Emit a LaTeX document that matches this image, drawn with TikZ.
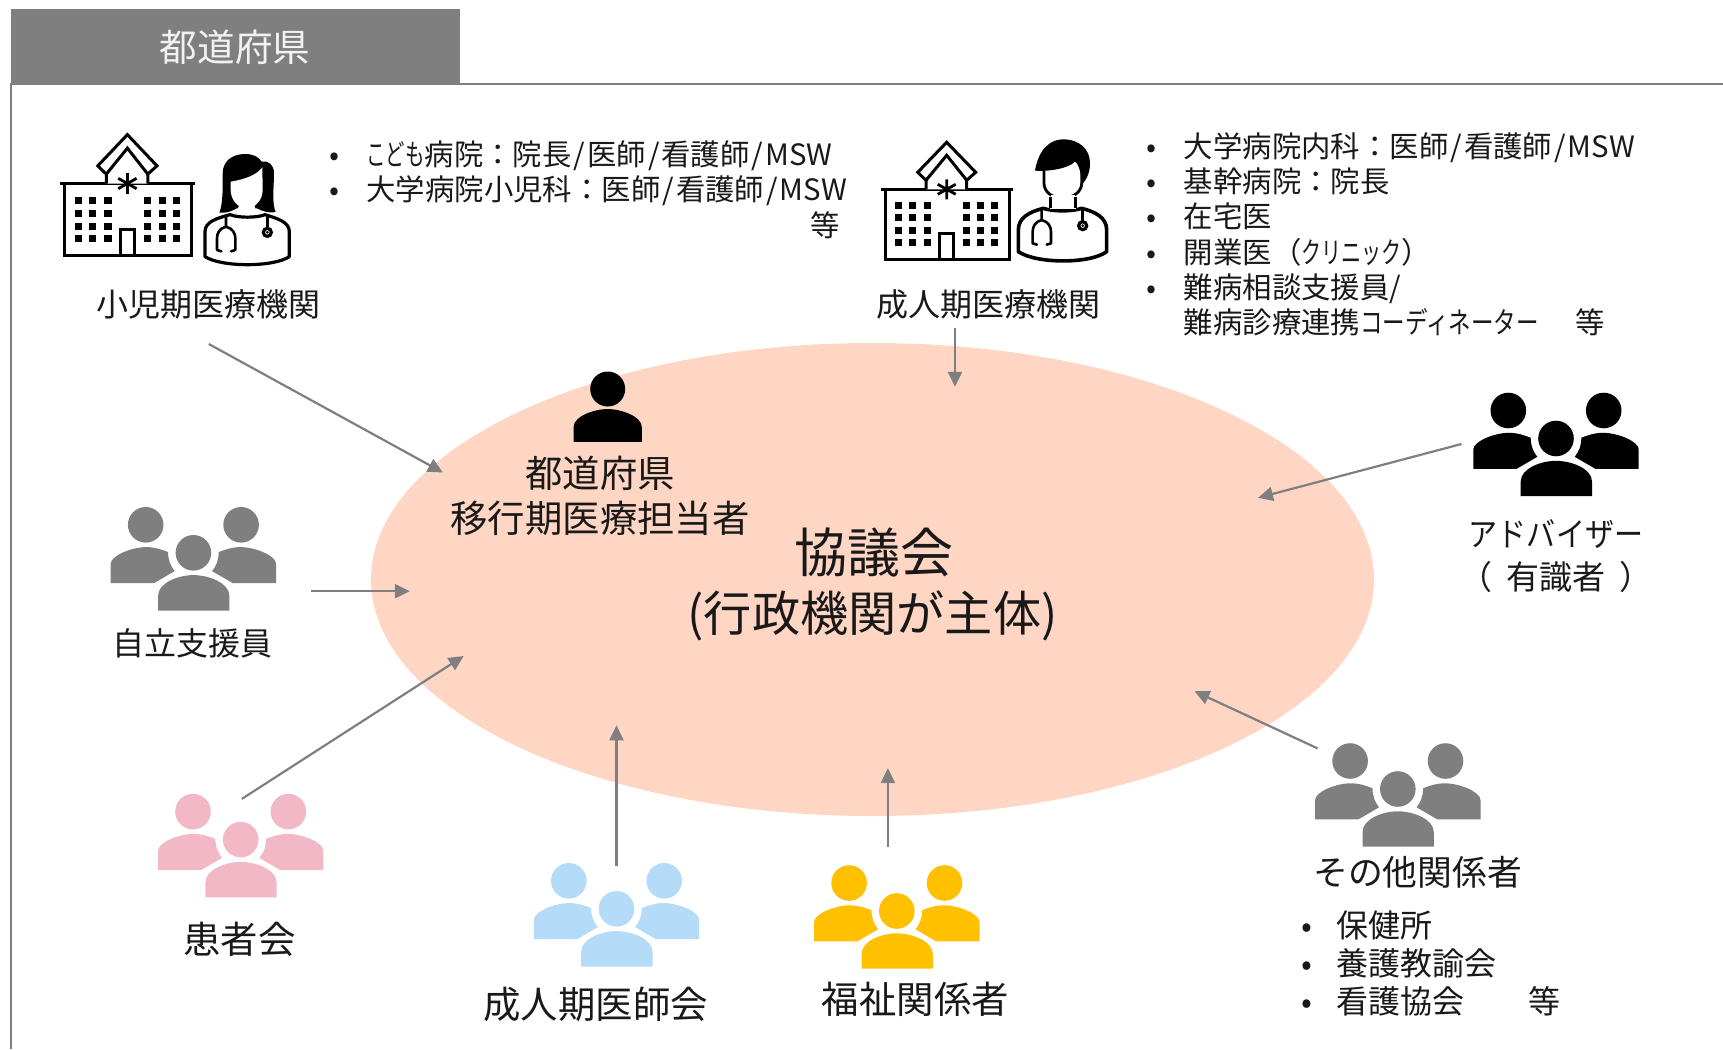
\documentclass[tikz,border=0pt]{standalone}
\usepackage{graphicx}
\usepackage{fontspec}
\setmainfont{Noto Sans CJK JP}
\usetikzlibrary{arrows.meta,shapes.geometric}
\definecolor{tabgray}{HTML}{7F7F7F}
\definecolor{ovalc}{HTML}{FFD6C3}
\definecolor{pinkc}{HTML}{F2B8C6}
\definecolor{bluec}{HTML}{B4DBF7}
\definecolor{yellowc}{HTML}{FFC000}
\newcommand{\fs}[1]{\fontsize{#1pt}{#1pt}\selectfont}
\newcommand{\blt}{\makebox[18.7pt][l]{•}}
\newcommand{\kn}[2][0.66]{\scalebox{#1}[1]{#2}}
\newcommand{\slh}{\kern1pt/\kern1pt}
\tikzset{
  x=0.5pt,y=-0.5pt,
  txt/.style={inner sep=0pt,text=black!90,font=\fs{16}},
  big/.style={txt,font=\fs{18.7}},
  li/.style={inner sep=0pt,anchor=west,text=black!90,font=\fs{14.7}},
  conn/.style={draw=tabgray,line width=1.1pt,-{Triangle[length=7.5pt,width=7pt]}},
  zoomunits/.style={x=0.16667pt,y=-0.16667pt},
  people/.pic={
    \path[pic actions] (0,0) circle[radius=17.8];
    \path[pic actions] (-47.7,-28) circle[radius=17.8];
    \path[pic actions] (47.7,-28) circle[radius=17.8];
    \path[pic actions] (-35.3,57.7) -- (-35.3,43) .. controls (-35.3,30) and (-15,22.3) .. (0,22.3) .. controls (15,22.3) and (36,30) .. (36,43) -- (36,57.7) -- cycle;
    \path[pic actions] (-82.7,30.3) -- (-82.7,11) .. controls (-82.7,3) and (-62,-5.7) .. (-47,-5.7) .. controls (-39,-5.7) and (-32,-3.5) .. (-25.3,-0.7) .. controls (-25.3,7) and (-23,13) .. (-18.7,18.3) -- (-39.3,30.3) -- cycle;
    \path[pic actions] (82.7,30.3) -- (82.7,11) .. controls (82.7,3) and (62,-5.7) .. (47,-5.7) .. controls (39,-5.7) and (32,-3.5) .. (25.3,-0.7) .. controls (25.3,7) and (23,13) .. (18.7,18.3) -- (39.3,30.3) -- cycle;
  },
  hospital/.pic={
    \draw[line width=1.5pt,line join=miter] (-61.5,0) rectangle (62.5,69.7);
    \draw[line width=1.5pt] (-66,0) -- (66,0);
    \draw[line width=1.5pt,fill=white,line join=miter] (-20.7,0) -- (-20.7,-9) -- (-29,-17) -- (0,-47) -- (29,-17) -- (20,-9) -- (20,0);
    \draw[line width=1.5pt,line join=miter] (-20.7,-9) -- (0,-34) -- (20,-9);
    \draw[line width=1.4pt] (0,-10) -- (0,10) (-9,-5) -- (9,5) (-9,5) -- (9,-5);
    \foreach \wx in {-48,-34,-19,20,34,48}
      \foreach \wy in {16,28.5,41,53}
        \fill (\wx-3.5,\wy-3.5) rectangle (\wx+3.5,\wy+3.5);
    \draw[line width=1.5pt] (-7,69.7) -- (-7,44) -- (7,44) -- (7,69.7);
  }
}
\newcommand{\steth}[4]{% left tube x, unused, right tube x, top y
  \draw[line width=1.3pt,line cap=round,line join=round] (#1,#4) -- (#1,#4+30) .. controls (#1-20,#4+35) and (#1-27,#4+50) .. (#1-27,#4+65) -- (#1-27,#4+100) -- (#1-14,#4+104);
  \draw[line width=1.3pt,line cap=round,line join=round] (#1,#4+30) .. controls (#1+20,#4+35) and (#1+28,#4+50) .. (#1+28,#4+65) -- (#1+28,#4+100) -- (#1+15,#4+104);
  \draw[line width=1.3pt] (#3,#4) -- (#3,#4+35);
  \draw[line width=1.6pt,fill=white] (#3,#4+47) circle[radius=12];
  \fill (#3,#4+47) circle[radius=4.5];
}
\begin{document}
\begin{tikzpicture}
\useasboundingbox (0,0) rectangle (1723,1049);
% frame and tab
\draw[tabgray,line width=1pt] (11,1049) -- (11,84) -- (1723,84);
\fill[tabgray] (11,9) rectangle (460,84);
\node[inner sep=0pt,text=white!95!black,font=\fs{18.8}] (tab) at (235,47) {都道府県};
% council
\fill[ovalc] (872.5,579.5) ellipse[x radius=501.5,y radius=236.5];
\node[inner sep=0pt,text=black!90,font=\fs{26.5}] (c1) at (873.6,552.8) {協議会};
\node[inner sep=0pt,text=black!90,font=\fs{24.1}] (c2) at (872.5,615.4) {(行政機関が主体)};
% official
\fill (607.7,389) circle[radius=17.5];
\fill (573.6,441.8) -- (573.6,427) .. controls (573.6,416) and (595,409) .. (607.7,409) .. controls (620,409) and (641.8,416) .. (641.8,427) -- (641.8,441.8) -- cycle;
\node[big] (off1) at (600,473.6) {都道府県};
\node[big] (off2) at (600,518.7) {移行期医療担当者};
% child hospital
\pic[xscale=1.02,yscale=1.04] at (127.4,183.5) {hospital};
% female doctor
\begin{scope}[shift={(190,140)},zoomunits]
  \draw[line width=1.6pt,fill=white,line join=round] (120,224) .. controls (80,235) and (45,245) .. (45,275) -- (45,350) .. controls (95,382) and (250,382) .. (298,350) -- (298,275) .. controls (298,245) and (260,235) .. (225,224) .. controls (200,234) and (145,234) .. (120,224) -- cycle;
  \fill (165,42) .. controls (190,42) and (205,50) .. (215,65) .. controls (235,60) and (252,75) .. (252,100) .. controls (252,140) and (245,190) .. (257,216) .. controls (240,220) and (220,215) .. (200,205) -- (140,205) .. controls (125,215) and (105,220) .. (88,218) .. controls (100,190) and (98,130) .. (98,100) .. controls (98,65) and (125,42) .. (165,42) -- cycle;
  \fill[white] (122,125) .. controls (165,118) and (200,105) .. (217,82) -- (218,150) .. controls (218,180) and (195,205) .. (170,205) .. controls (145,205) and (122,180) .. (122,150) -- cycle;
  \fill[white] (147,195) -- (193,195) -- (200,221) .. controls (180,226) and (160,226) .. (140,221) -- cycle;
  \steth{108}{0}{232}{230}
\end{scope}
\node[txt] (lb1) at (208.8,304.4) {小児期医療機関};
\node[li] (k1) at (328.7,155.8) {\blt \kn{こども}病院：院長\slh 医師\slh 看護師\slh MSW};
\node[li] (k2) at (328.7,191) {\blt 大学病院小児科：医師\slh 看護師\slh MSW};
\node[li,anchor=center] (k3) at (825.3,225.3) {等};
% adult hospital
\pic at (946.7,189.3) {hospital};
% male doctor
\begin{scope}[shift={(1000,130)},zoomunits]
  \draw[line width=1.8pt,fill=white,line join=round] (130,235) .. controls (90,245) and (55,262) .. (55,300) -- (55,365) .. controls (110,402) and (270,402) .. (320,365) -- (320,300) .. controls (320,262) and (285,245) .. (245,235) .. controls (215,245) and (160,245) .. (130,235) -- cycle;
  \fill[white] (150,195) rectangle (228,238);
  \draw[line width=1.4pt,fill=white] (132,100) -- (132,160) .. controls (132,185) and (155,204) .. (188,204) .. controls (220,204) and (245,185) .. (245,160) -- (245,100);
  \fill[white] (152,195) rectangle (226,236);
  \draw[line width=1.4pt] (151,200) -- (151,234) (227,200) -- (227,234);
  \fill (105,122) .. controls (115,60) and (150,25) .. (195,28) .. controls (235,30) and (270,55) .. (270,100) .. controls (270,130) and (258,150) .. (245,165) .. controls (245,130) and (235,100) .. (225,95) .. controls (205,115) and (150,125) .. (105,122) -- cycle;
  \steth{125}{0}{248}{240}
\end{scope}
\node[txt] (lb2) at (988,304.4) {成人期医療機関};
\node[li] (a1) at (1146.1,148.2) {\blt 大学病院内科：医師\slh 看護師\slh MSW};
\node[li] (a2) at (1146.1,181.3) {\blt 基幹病院：院長};
\node[li] (a3) at (1146.1,216.5) {\blt 在宅医};
\node[li] (a4) at (1146.1,252.6) {\blt 開業医（\kn[0.68]{クリニック}）};
\node[li] (a5) at (1146.1,288.8) {\blt 難病相談支援員/};
\node[li] (a6) at (1183.5,322) {難病診療連携\kn[0.765]{コーディネーター}};
\node[li,anchor=center] (a7) at (1590,322) {等};
% people groups
\pic[fill=tabgray] at (193.4,552.8) {people};
\node[txt] (sup) at (192.3,642.9) {自立支援員};
\pic[fill=black] at (1556,438.5) {people};
\node[txt,font=\fs{16.5}] (adv1) at (1556,534) {\kn[0.88]{アドバイザー}};
\node[txt,font=\fs{16.5}] (adv2) at (1556,577) {（\kern7pt 有識者\kern7pt）};
\pic[fill=pinkc] at (240.7,839.6) {people};
\node[big] (pat) at (239.6,939.6) {患者会};
\pic[fill=bluec] at (616.5,908.8) {people};
\node[big] (med) at (595.6,1004.4) {成人期医師会};
\pic[fill=yellowc] at (896.8,911) {people};
\node[big] (wel) at (915.4,998.9) {福祉関係者};
\pic[fill=tabgray] at (1397.8,789) {people};
\node[txt,font=\fs{17.4}] (oth) at (1417.6,872.5) {その他関係者};
\node[li,font=\fs{16}] (o1) at (1300.8,925.3) {\makebox[17.6pt][l]{•}保健所};
\node[li,font=\fs{16}] (o2) at (1300.8,963.7) {\makebox[17.6pt][l]{•}養護教諭会};
\node[li,font=\fs{16}] (o3) at (1300.8,1001) {\makebox[17.6pt][l]{•}看護協会};
\node[li,font=\fs{16},anchor=center] (o4) at (1544,1001) {等};
% connectors
\coordinate (s1) at (208.8,344); \coordinate (e1) at (442.9,472.5);
\coordinate (s2) at (955,327.5); \coordinate (e2) at (955,386.8);
\coordinate (s3) at (1461.5,444); \coordinate (e3) at (1258,497.8);
\coordinate (s4) at (311,591.2); \coordinate (e4) at (409.9,591.2);
\coordinate (s5) at (241.8,798.9); \coordinate (e5) at (463.7,656);
\coordinate (s6) at (616.5,866); \coordinate (e6) at (616.5,725.3);
\coordinate (s7) at (887.9,847.3); \coordinate (e7) at (887.9,768.1);
\coordinate (s8) at (1317.6,748.4); \coordinate (e8) at (1194.5,691.2);
\foreach \i in {1,...,8} \draw[conn] (s\i) -- (e\i);
\end{tikzpicture}
\end{document}
